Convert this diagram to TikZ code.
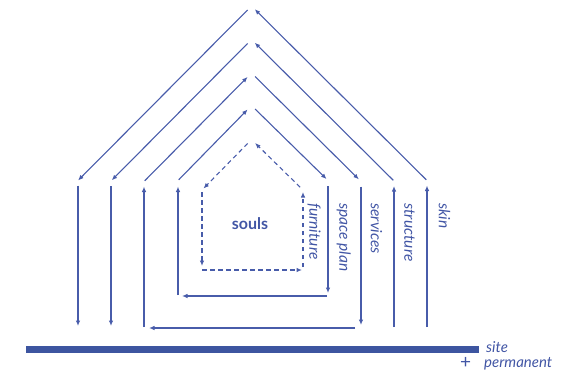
\documentclass[tikz,border=0pt]{standalone}
\usepackage{fontspec}
\setmainfont{Lato}
\usetikzlibrary{arrows.meta}
\definecolor{ln}{RGB}{72,92,170}
\definecolor{barc}{RGB}{61,85,160}
\definecolor{txt}{RGB}{66,86,165}
\tikzset{
  flow/.style={draw=ln, line width=1.1pt, -{Latex[length=5.5pt,width=4.5pt]}},
  dflow/.style={flow, dash pattern=on 4.5pt off 3.5pt},
  lbl/.style={text=txt, font=\itshape\fontsize{15.5}{15.5}\selectfont, rotate=-90, anchor=mid west, inner sep=0pt},
  sidetxt/.style={text=txt, font=\itshape\fontsize{15}{15}\selectfont, anchor=base west, inner sep=0pt}
}
\begin{document}
\begin{tikzpicture}[x=1pt,y=-1pt]
\useasboundingbox (0,0) rectangle (585,372);
% skin
\coordinate (skA) at (251.5,6);
\coordinate (skL) at (78,180.5);
\coordinate (skR) at (427,180.5);
\coordinate (skBL) at (78,326);
\coordinate (skBR) at (427,327);
\draw[flow, shorten >=5pt] (skBR) -- (skR);
\draw[flow, shorten <=1pt, shorten >=4.5pt] (skR) -- (skA);
\draw[flow, shorten <=5.5pt] (skA) -- (skL);
\draw[flow, shorten <=5pt] (skL) -- (skBL);
% structure
\coordinate (stA) at (251.5,39.5);
\coordinate (stL) at (111,181);
\coordinate (stR) at (394,181);
\coordinate (stBL) at (111,326);
\coordinate (stBR) at (394,327);
\draw[flow, shorten >=5pt] (stBR) -- (stR);
\draw[flow, shorten <=1pt, shorten >=4.5pt] (stR) -- (stA);
\draw[flow, shorten <=5.5pt, shorten >=1pt] (stA) -- (stL);
\draw[flow, shorten <=5pt] (stL) -- (stBL);
% services
\coordinate (seA) at (251.5,73);
\coordinate (seL) at (144,181.5);
\coordinate (seR) at (361,181.5);
\coordinate (seBL) at (144,328);
\coordinate (seBR) at (361,328);
\draw[flow, shorten <=1pt, shorten >=5pt] (seBL) -- (seL);
\draw[flow, shorten <=1pt, shorten >=5.5pt] (seL) -- (seA);
\draw[flow, shorten <=5pt, shorten >=3pt] (seA) -- (seR);
\draw[flow, shorten <=5pt, shorten >=3pt] (seR) -- (seBR);
\draw[flow, shorten <=6pt, shorten >=5pt] (seBR) -- (seBL);
% space plan
\coordinate (spA) at (251.5,105.5);
\coordinate (spL) at (178,180.5);
\coordinate (spR) at (328,180.5);
\coordinate (spBL) at (178,296);
\coordinate (spBR) at (328,296);
\draw[flow, shorten <=1pt, shorten >=6pt] (spBL) -- (spL);
\draw[flow, shorten <=1pt, shorten >=5.5pt] (spL) -- (spA);
\draw[flow, shorten <=5pt, shorten >=2pt] (spA) -- (spR);
\draw[flow, shorten <=5.5pt, shorten >=3pt] (spR) -- (spBR);
\draw[flow, shorten <=1pt, shorten >=4pt] (spBR) -- (spBL);
% furniture
\coordinate (fuA) at (251.5,139.5);
\coordinate (fuL) at (202,190);
\coordinate (fuR) at (303,190);
\coordinate (fuBL) at (202,270);
\coordinate (fuBR) at (303,270);
\draw[dflow, shorten <=5.5pt, shorten >=2pt] (fuA) -- (fuL);
\draw[dflow, shorten <=2pt, shorten >=4pt] (fuL) -- (fuBL);
\draw[dflow, shorten >=1pt] (fuBL) -- (fuBR);
\draw[dflow, shorten <=3pt, shorten >=2pt] (fuBR) -- (fuR);
\draw[dflow, shorten <=4pt, shorten >=5pt] (fuR) -- (fuA);
% site bar
\fill[barc] (26,346) rectangle (479,353);
% labels
\node[text=txt, font=\bfseries\fontsize{16}{16}\selectfont] (souls) at (250,224) {souls};
\node[lbl] (lfu) at (312,203) {furniture};
\node[lbl] (lsp) at (342,203) {space plan};
\node[lbl] (lse) at (373.5,203) {services};
\node[lbl] (lst) at (407,203) {structure};
\node[lbl] (lsk) at (441.5,203) {skin};
\node[sidetxt] (site) at (486,352) {site};
\node[text=txt, font=\fontsize{19}{19}\selectfont, anchor=base west, inner sep=0pt] (plus) at (460,368) {+};
\node[sidetxt] (perm) at (484,367) {permanent};
\end{tikzpicture}
\end{document}
